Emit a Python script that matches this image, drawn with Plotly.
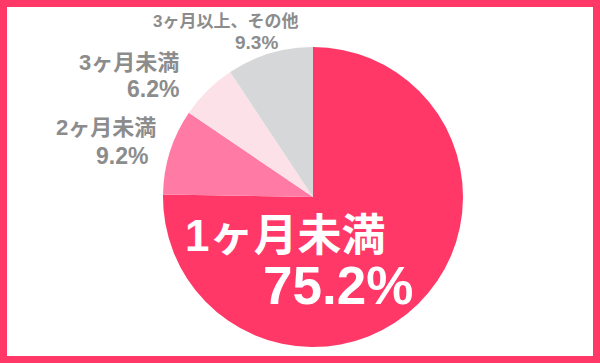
import plotly.graph_objects as go

labels = ["1ヶ月未満", "2ヶ月未満", "3ヶ月未満", "3ヶ月以上、その他"]
values = [75.2, 9.2, 6.2, 9.3]
colors = ["#FF3868", "#FF7BA6", "#FCE1E8", "#D6D7D9"]
pct_text = ["75.2%", "9.2%", "6.2%", "9.3%"]

W, H = 600, 363
FONT = "Liberation Sans, Noto Sans CJK JP, sans-serif"

fig = go.Figure(go.Pie(
    labels=labels, values=values, sort=False, direction="clockwise", rotation=0,
    marker=dict(colors=colors, line=dict(width=0)), textinfo="none",
    hoverinfo="skip", showlegend=False,
    domain=dict(x=[163 / W, 463 / W], y=[(H - 347) / H, (H - 47) / H]),
))

def px(x, y):
    return x / W, 1 - y / H

anns = []
def add(text, x, y, size, color, xanchor="center"):
    ax, ay = px(x, y)
    anns.append(dict(text=text, x=ax, y=ay, xref="paper", yref="paper", showarrow=False,
                     xanchor=xanchor, yanchor="middle",
                     font=dict(family=FONT, size=size, color=color, weight="bold")))

gray = "#8C8C8C"
add(labels[0], 183, 235, 44, "white", "left")
add(pct_text[0], 415, 285, 53, "white", "right")
add(labels[1], 158, 127, 22, gray, "right")
add(pct_text[1], 150, 156, 23, gray, "right")
add(labels[2], 181, 63, 22, gray, "right")
add(pct_text[2], 181, 89, 23, gray, "right")
add(labels[3], 225, 21, 17, gray, "center")
add(pct_text[3], 256, 43, 19, gray, "center")

fig.update_layout(
    width=W, height=H, margin=dict(l=0, r=0, t=0, b=0),
    paper_bgcolor="#FF3868", plot_bgcolor="white",
    annotations=anns,
    shapes=[dict(type="rect", xref="paper", yref="paper", layer="below",
                 x0=7 / W, x1=(W - 7) / W, y0=7 / H, y1=1 - 7 / H,
                 fillcolor="white", line=dict(width=0))],
)
fig.write_html("out.html")
